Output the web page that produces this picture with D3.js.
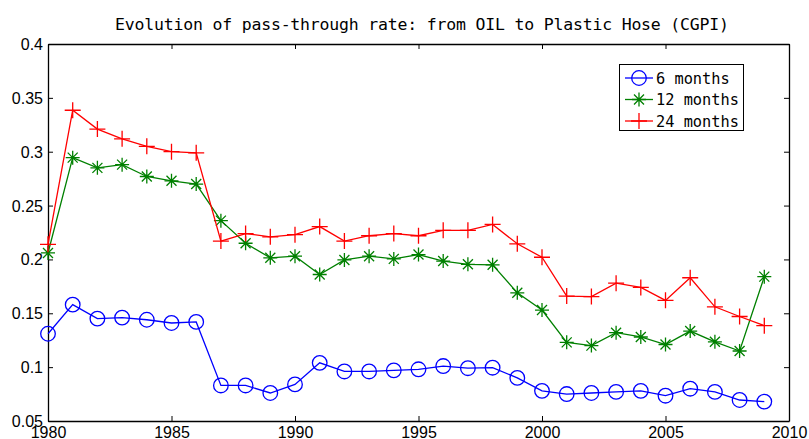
<!DOCTYPE html>
<html><head><meta charset="utf-8">
<script src="https://cdn.jsdelivr.net/npm/d3@7"></script>
<style>body{margin:0;background:#fff}svg{display:block}</style>
</head><body>
<svg id="c" width="809" height="439"></svg>
<script>
const years = d3.range(1980, 2010);
const m6 = [0.131,0.158,0.145,0.146,0.144,0.141,0.142,0.083,0.083,0.076,0.084,0.104,0.096,0.096,0.097,0.098,0.101,0.099,0.0995,0.090,0.078,0.075,0.076,0.077,0.078,0.0735,0.080,0.077,0.0695,0.068];
const m12 = [0.206,0.2945,0.285,0.288,0.277,0.273,0.270,0.236,0.215,0.2015,0.203,0.186,0.1995,0.203,0.2005,0.2045,0.1985,0.1955,0.195,0.169,0.153,0.123,0.120,0.132,0.128,0.121,0.1335,0.1235,0.115,0.184];
const m24 = [0.214,0.3385,0.321,0.312,0.305,0.300,0.299,0.217,0.224,0.221,0.223,0.2305,0.217,0.222,0.224,0.222,0.227,0.227,0.2325,0.2145,0.202,0.166,0.1655,0.178,0.174,0.162,0.183,0.156,0.147,0.1385];
const seriesNames = ["6 months","12 months","24 months"];
const seriesColors = ["#0000ff","#008000","#ff0000"];
const xTicks = [1980,1985,1990,1995,2000,2005,2010];
const yTicks = [0.05,0.1,0.15,0.2,0.25,0.3,0.35,0.4];
const title = "Evolution of pass-through rate: from OIL to Plastic Hose (CGPI)";

const svg = d3.select("#c");
const L=48,R=789,T=44,B=421;
const x = d3.scaleLinear().domain([1980,2010]).range([L,R]);
const y = d3.scaleLinear().domain([0.05,0.4]).range([B,T]);
const tickFont = "Liberation Sans, Arial, sans-serif";
const mono = "DejaVu Sans Mono, Liberation Mono, monospace";

// title
svg.append("text").attr("x",422).attr("y",30).attr("text-anchor","middle")
  .attr("font-family",mono).attr("font-size",16.5)
  .attr("textLength",614).attr("lengthAdjust","spacing").text(title);

// axes
const xb = svg.append("g").attr("transform",`translate(0,${B})`)
  .call(d3.axisBottom(x).tickValues(xTicks).tickSizeInner(-5).tickSizeOuter(0).tickPadding(0).tickFormat(d3.format("d")));
const xt = svg.append("g").attr("transform",`translate(0,${T})`)
  .call(d3.axisTop(x).tickValues(xTicks).tickSizeInner(-5).tickSizeOuter(0).tickFormat(""));
const yl = svg.append("g").attr("transform",`translate(${L},0)`)
  .call(d3.axisLeft(y).tickValues(yTicks).tickSizeInner(-5).tickSizeOuter(0).tickPadding(5).tickFormat(d=>String(+d.toFixed(2))));
const yr = svg.append("g").attr("transform",`translate(${R},0)`)
  .call(d3.axisRight(y).tickValues(yTicks).tickSizeInner(-5).tickSizeOuter(0).tickFormat(""));
[xb,xt,yl,yr].forEach(g=>{
  g.selectAll(".domain").attr("stroke","#000").attr("stroke-width",1.3);
  g.selectAll(".tick line").attr("stroke","#000");
  g.selectAll("text").attr("font-family",tickFont).attr("font-size",16).attr("fill","#000");
});
xb.selectAll("text").attr("y",16.5).attr("dy",null);
yl.selectAll("text").attr("dy","0.34em");

// series
const data = [m6,m12,m24];
const line = d3.line().x((d,i)=>x(years[i])).y(d=>y(d));
function marker(g, kind, color){
  if(kind===0){
    g.append("circle").attr("r",7.3).attr("fill","none").attr("stroke",color).attr("stroke-width",1.3);
  } else if(kind===1){
    const s=7, d=5;
    const p=`M${-s},0L${s},0M0,${-s}L0,${s}M${-d},${-d}L${d},${d}M${-d},${d}L${d},${-d}`;
    g.append("path").attr("d",p).attr("stroke",color).attr("stroke-width",1.3).attr("fill","none");
  } else {
    const s=8;
    g.append("path").attr("d",`M${-s},0L${s},0M0,${-s}L0,${s}`).attr("stroke",color).attr("stroke-width",1.3).attr("fill","none");
  }
}
data.forEach((vals,k)=>{
  svg.append("path").datum(vals).attr("d",line).attr("fill","none")
    .attr("stroke",seriesColors[k]).attr("stroke-width",1.3);
  vals.forEach((v,i)=>{
    const g = svg.append("g").attr("transform",`translate(${x(years[i])},${y(v)})`);
    marker(g,k,seriesColors[k]);
  });
});

// legend
const lg = svg.append("g");
lg.append("rect").attr("x",619.5).attr("y",64.5).attr("width",124).attr("height",66)
  .attr("fill","#fff").attr("stroke","#000").attr("stroke-width",1);
seriesNames.forEach((n,k)=>{
  const yy = 78 + k*21.5;
  lg.append("line").attr("x1",625).attr("x2",653).attr("y1",yy).attr("y2",yy)
    .attr("stroke",seriesColors[k]).attr("stroke-width",1.3);
  const g = lg.append("g").attr("transform",`translate(639,${yy})`);
  marker(g,k,seriesColors[k]);
  lg.append("text").attr("x",656).attr("y",yy).attr("dy","0.36em")
    .attr("font-family",mono).attr("font-size",15.3).text(n);
});
</script>
</body></html>
